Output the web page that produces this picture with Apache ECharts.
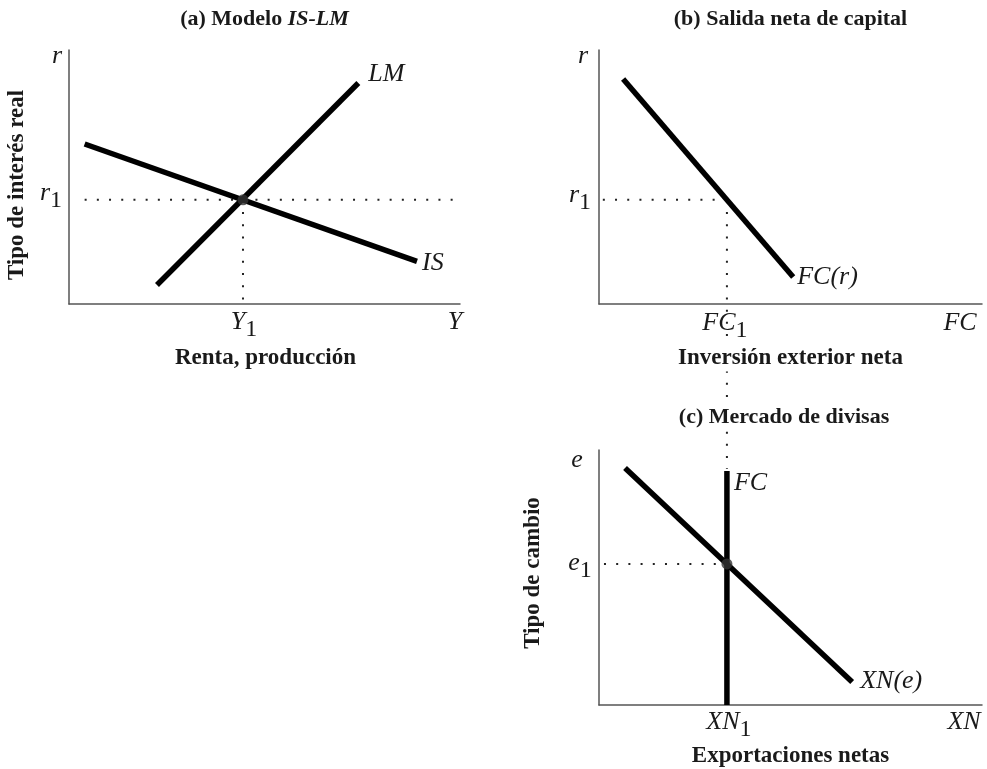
<!DOCTYPE html>
<html>
<head>
<meta charset="utf-8">
<script src="https://cdn.jsdelivr.net/npm/echarts@6/dist/echarts.min.js"></script>
<style>html,body{margin:0;padding:0;background:#fff}#c{width:987px;height:769px}</style>
</head>
<body>
<div id="c"></div>
<script>
// ---- data (each panel uses a 0..10 schematic scale) ----
const isCurve = [[0.4, 6.3], [8.9, 1.68]];
const lmCurve = [[2.25, 0.75], [7.4, 8.7]];
const eqA = [4.45, 4.1];            // (Y1, r1)
const fcCurve = [[0.63, 8.86], [5.07, 1.06]];
const fc1 = 3.34;                   // FC1 = XN1
const r1 = 4.1;
const xnCurve = [[0.68, 9.29], [6.61, 0.90]];
const fcVertical = [[3.34, 0], [3.34, 9.18]];
const e1 = 5.53;

const panelTitles = ['(a) Modelo ', 'IS-LM', '(b) Salida neta de capital', '(c) Mercado de divisas'];
const axisTitles = ['Renta, producción', 'Tipo de interés real', 'Inversión exterior neta', 'Exportaciones netas', 'Tipo de cambio'];

const chart = echarts.init(document.getElementById('c'), null, {renderer: 'canvas'});

const grids = [
  {left: 69, top: 50, width: 391, height: 254},
  {left: 599, top: 50, width: 383, height: 254},
  {left: 599, top: 450, width: 383, height: 255}
];
const axisLineStyle = {color: '#555', width: 1.5};
function mkAxis(i) {
  return {
    gridIndex: i, type: 'value', min: 0, max: 10,
    axisLine: {show: true, onZero: false, lineStyle: axisLineStyle},
    axisTick: {show: false}, axisLabel: {show: false}, splitLine: {show: false}
  };
}
function thick(data, gi) {
  return {type: 'line', xAxisIndex: gi, yAxisIndex: gi, data: data, symbol: 'none', silent: true,
    lineStyle: {color: '#000', width: 5.5, cap: 'butt'}, z: 3};
}
function dotted(data, gi) {
  return {type: 'line', xAxisIndex: gi, yAxisIndex: gi, data: data, symbol: 'none', silent: true, clip: false,
    lineStyle: {color: '#222', width: 2, type: [2, 10.2]}, z: 2};
}
function dot(pt, gi) {
  return {type: 'scatter', xAxisIndex: gi, yAxisIndex: gi, data: [pt], symbol: 'circle', symbolSize: 11,
    silent: true, itemStyle: {color: '#333'}, z: 4};
}

chart.setOption({
  animation: false,
  backgroundColor: '#fff',
  grid: grids,
  xAxis: [mkAxis(0), mkAxis(1), mkAxis(2)],
  yAxis: [mkAxis(0), mkAxis(1), mkAxis(2)],
  series: [
    dotted([[isCurve[0][0], r1], [12.55, r1]], 0),
    dotted([[eqA[0], eqA[1]], [eqA[0], 0]], 0),
    thick(isCurve, 0),
    thick(lmCurve, 0),
    dot(eqA, 0),
    dotted([[0.1, r1], [fc1, r1]], 1),
    dotted([[fc1, r1], [fc1, -6.5]], 1),
    thick(fcCurve, 1),
    dotted([[0.13, e1], [fc1, e1]], 2),
    thick(xnCurve, 2),
    thick(fcVertical, 2),
    dot([fc1, e1], 2)
  ]
});

function px(gi, pt) { return chart.convertToPixel({gridIndex: gi}, pt); }
const FAM = '"Liberation Serif", "DejaVu Serif", serif';
const IT = 'italic 26px ' + FAM;
const UP = 'normal 24px ' + FAM;
const BOLD = 'bold 23px ' + FAM;
const TBOLD = 'bold 22px ' + FAM;
const INK = '#1a1a1a';
function txt(x, y, text, font, extra) {
  const style = Object.assign({text: text, font: font, fill: INK, align: 'center', verticalAlign: 'middle'}, (extra && extra.style) || {});
  const el = {type: 'text', x: x, y: y, z: 100, silent: true, style: style};
  if (extra && extra.rotation) el.rotation = extra.rotation;
  return el;
}
// letter (italic) with a lowered upright subscript, as one rich text
function sub(x, y, letter, drop, align) {
  return txt(x, y, '{m|' + letter + '}{s|1}', IT, {style: {align: align || 'center', rich: {
    m: {font: IT, fill: INK, padding: [0, 0, drop, 0]},
    s: {font: UP, fill: INK, padding: [drop, 0, 0, 0]}
  }}});
}

const g = [];
// Panel (a)
const Oa = px(0, [0, 0]), Ta = px(0, [0, 10]), Ra = px(0, [10, 0]);
const Ea = px(0, eqA);
g.push(txt((Oa[0] + Ra[0]) / 2, 19, '{a|' + panelTitles[0] + '}{b|' + panelTitles[1] + '}', TBOLD,
  {style: {rich: {a: {font: TBOLD, fill: INK}, b: {font: 'italic ' + TBOLD, fill: INK}}}}));
g.push(txt(Oa[0] - 12, Ta[1] + 6, 'r', IT));
g.push(sub(Oa[0] - 18, Ea[1] - 3, 'r', 8));
g.push(sub(Ea[0] + 1, Oa[1] + 22, 'Y', 8));
g.push(txt(Ra[0] - 5, Oa[1] + 18, 'Y', IT));
const lmEnd = px(0, lmCurve[1]), isEnd = px(0, isCurve[1]);
g.push(txt(lmEnd[0] + 10, lmEnd[1] - 9, 'LM', IT, {style: {align: 'left'}}));
g.push(txt(isEnd[0] + 5, isEnd[1] + 2, 'IS', IT, {style: {align: 'left'}}));
g.push(txt((Oa[0] + Ra[0]) / 2 + 1, 358, axisTitles[0], BOLD));
g.push(txt(17, 185, axisTitles[1], BOLD, {rotation: Math.PI / 2}));

// Panel (b)
const Ob = px(1, [0, 0]), Tb = px(1, [0, 10]), Rb = px(1, [10, 0]);
const Fb = px(1, [fc1, r1]);
g.push(txt((Ob[0] + Rb[0]) / 2, 19, panelTitles[2], TBOLD));
g.push(txt(Ob[0] - 16, Tb[1] + 6, 'r', IT));
g.push(sub(Ob[0] - 19, Fb[1] - 1, 'r', 8));
const fcEnd = px(1, fcCurve[1]);
g.push(txt(fcEnd[0] + 4, fcEnd[1], 'FC(r)', IT, {style: {align: 'left'}}));
g.push(sub(Fb[0] - 2, Ob[1] + 23, 'FC', 8));
g.push(txt(Rb[0] - 22, Ob[1] + 19, 'FC', IT));
g.push(txt((Ob[0] + Rb[0]) / 2, 358, axisTitles[2], BOLD, {style: {backgroundColor: '#fff', padding: [2, 4]}}));

// Panel (c)
const Oc = px(2, [0, 0]), Tc = px(2, [0, 10]), Rc = px(2, [10, 0]);
const Ec = px(2, [fc1, e1]);
const fcTop = px(2, fcVertical[1]);
const xnEnd = px(2, xnCurve[1]);
g.push(txt(784, 417, panelTitles[3], TBOLD, {style: {backgroundColor: '#fff', padding: [2, 4]}}));
g.push(txt(Oc[0] - 22, Tc[1] + 10, 'e', IT));
g.push(sub(Oc[0] - 19, Ec[1] + 3, 'e', 8));
g.push(txt(fcTop[0] + 7, fcTop[1] + 12, 'FC', IT, {style: {align: 'left'}}));
g.push(txt(xnEnd[0] + 8, xnEnd[1] - 1, 'XN(e)', IT, {style: {align: 'left'}}));
g.push(sub(Ec[0] + 2, Oc[1] + 21, 'XN', 8));
g.push(txt(Rc[0] - 18, Oc[1] + 17, 'XN', IT));
g.push(txt((Oc[0] + Rc[0]) / 2, 756, axisTitles[3], BOLD));
g.push(txt(533, 573, axisTitles[4], BOLD, {rotation: Math.PI / 2}));

chart.setOption({graphic: g});
</script>
</body>
</html>
